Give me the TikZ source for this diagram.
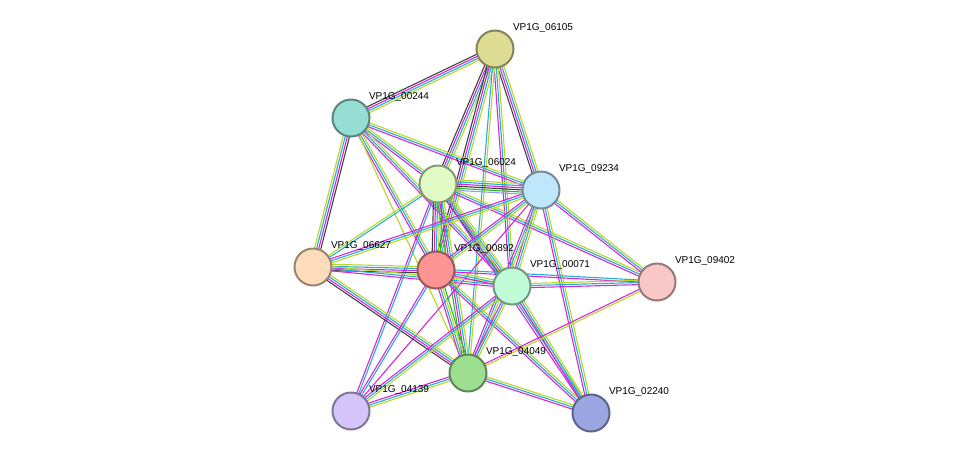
\documentclass[tikz,border=0pt]{standalone}
\usepackage{fontspec}
\setmainfont{Liberation Sans}
\usetikzlibrary{calc,backgrounds}
\definecolor{cK}{HTML}{404040}
\definecolor{cM}{HTML}{D426D8}
\definecolor{cC}{HTML}{22AEDC}
\definecolor{cY}{HTML}{B8D622}
\definecolor{cG}{HTML}{2CB82C}
\definecolor{cB}{HTML}{9A9AF0}
\definecolor{f06105}{RGB}{222,220,146}
\definecolor{f00244}{RGB}{150,222,212}
\definecolor{f06024}{RGB}{224,252,196}
\definecolor{f09234}{RGB}{192,230,252}
\definecolor{f06627}{RGB}{254,220,188}
\definecolor{f00892}{RGB}{252,148,148}
\definecolor{f00071}{RGB}{192,252,216}
\definecolor{f09402}{RGB}{248,200,200}
\definecolor{f04049}{RGB}{156,222,144}
\definecolor{f04139}{RGB}{212,196,250}
\definecolor{f02240}{RGB}{156,166,226}
\tikzset{
  prot/.style={circle, draw=#1!60!black, fill=#1, line width=2pt, minimum size=37pt, inner sep=0pt},
  lbl/.style={font=\fontsize{10}{11}\selectfont, text width=80pt, align=left, xshift=58pt, yshift=21pt, inner sep=0pt},
}
% edge made of parallel thin lines: from, to, count, colours
\newcommand\stredge[4]{%
  \foreach \c [count=\i] in {#4} {
    \pgfmathsetmacro\o{(\i-(#3+1)/2)*2.1}
    \draw[c\c, line width=1.1pt] ($(#1)!\o pt!90:(#2)$) -- ($(#2)!\o pt!-90:(#1)$);
  }}
\begin{document}
\begin{tikzpicture}[x=1pt,y=-1pt]
  \useasboundingbox (0,0) rectangle (975,459);

  %% proteins
  \node[prot=f06105, label={[lbl]center:VP1G\_06105}] (p06105) at (495,49) {};
  \node[prot=f00244, label={[lbl]center:VP1G\_00244}] (p00244) at (351,118) {};
  \node[prot=f06024, label={[lbl]center:VP1G\_06024}] (p06024) at (438,184) {};
  \node[prot=f09234, label={[lbl]center:VP1G\_09234}] (p09234) at (541,190) {};
  \node[prot=f06627, label={[lbl]center:VP1G\_06627}] (p06627) at (313,267) {};
  \node[prot=f00892, label={[lbl]center:VP1G\_00892}] (p00892) at (436,270) {};
  \node[prot=f00071, label={[lbl]center:VP1G\_00071}] (p00071) at (512,286) {};
  \node[prot=f09402, label={[lbl]center:VP1G\_09402}] (p09402) at (657,282) {};
  \node[prot=f04049, label={[lbl]center:VP1G\_04049}] (p04049) at (468,373) {};
  \node[prot=f04139, label={[lbl]center:VP1G\_04139}] (p04139) at (351,411) {};
  \node[prot=f02240, label={[lbl]center:VP1G\_02240}] (p02240) at (591,413) {};

  %% links
  \begin{scope}[on background layer]
  \stredge{p06105}{p00244}{4}{K,M,C,Y}
  \stredge{p06105}{p06024}{4}{K,M,C,Y}
  \stredge{p06105}{p09234}{4}{K,M,C,Y}
  \stredge{p06105}{p00892}{4}{K,M,C,Y}
  \stredge{p06105}{p00071}{3}{M,C,Y}
  \stredge{p06105}{p04049}{2}{C,Y}
  \stredge{p00244}{p06627}{4}{Y,C,M,K}
  \stredge{p00244}{p06024}{3}{M,C,Y}
  \stredge{p00244}{p09234}{3}{M,C,Y}
  \stredge{p00244}{p00892}{3}{M,C,Y}
  \stredge{p00244}{p00071}{3}{M,C,Y}
  \stredge{p00244}{p04049}{1}{Y}
  \stredge{p06024}{p09234}{6}{B,G,K,M,C,Y}
  \stredge{p06024}{p06627}{2}{Y,C}
  \stredge{p06024}{p00892}{5}{K,M,C,Y,G}
  \stredge{p06024}{p00071}{4}{K,M,C,Y}
  \stredge{p06024}{p04049}{4}{G,M,C,Y}
  \stredge{p06024}{p04139}{2}{M,C}
  \stredge{p06024}{p09402}{3}{M,C,Y}
  \stredge{p06024}{p02240}{3}{M,C,Y}
  \stredge{p09234}{p06627}{3}{M,C,Y}
  \stredge{p09234}{p00892}{3}{M,C,Y}
  \stredge{p09234}{p00071}{3}{M,C,Y}
  \stredge{p09234}{p09402}{3}{M,C,Y}
  \stredge{p09234}{p04049}{3}{M,C,Y}
  \stredge{p09234}{p02240}{3}{M,C,Y}
  \stredge{p09234}{p04139}{1}{M}
  \stredge{p06627}{p00892}{4}{K,M,C,Y}
  \stredge{p06627}{p00071}{3}{M,C,Y}
  \stredge{p06627}{p04049}{4}{K,M,C,Y}
  \stredge{p00892}{p00071}{3}{M,C,Y}
  \stredge{p00892}{p09402}{2}{M,C}
  \stredge{p00892}{p04049}{4}{M,C,Y,G}
  \stredge{p00892}{p04139}{2}{M,C}
  \stredge{p00892}{p02240}{3}{M,C,Y}
  \stredge{p00071}{p09402}{3}{M,C,Y}
  \stredge{p00071}{p04049}{3}{M,C,Y}
  \stredge{p00071}{p04139}{3}{M,C,Y}
  \stredge{p00071}{p02240}{3}{M,C,Y}
  \stredge{p09402}{p04049}{2}{M,Y}
  \stredge{p04049}{p04139}{3}{M,C,Y}
  \stredge{p04049}{p02240}{3}{M,C,Y}
  \end{scope}
\end{tikzpicture}
\end{document}
